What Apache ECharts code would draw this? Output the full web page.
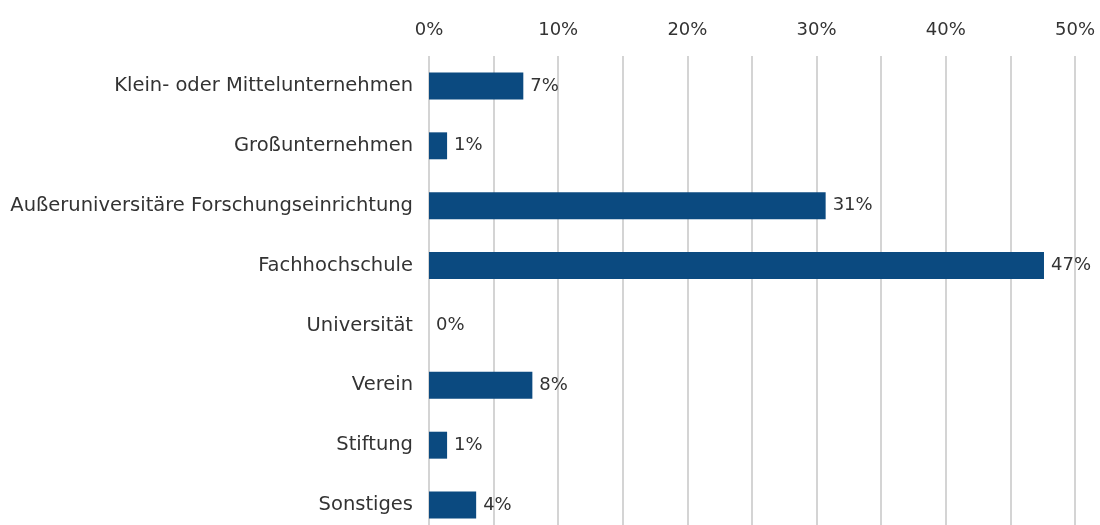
<!DOCTYPE html>
<html>
<head>
<meta charset="utf-8">
<script src="https://cdn.jsdelivr.net/npm/echarts@6/dist/echarts.min.js"></script>
<style>
  html, body { margin: 0; padding: 0; background: #fff; }
  #chart { width: 1100px; height: 525px; }
</style>
</head>
<body>
<div id="chart"></div>
<script>
// Kategorien von oben nach unten
const categories = [
  'Klein- oder Mittelunternehmen',
  'Großunternehmen',
  'Außeruniversitäre Forschungseinrichtung',
  'Fachhochschule',
  'Universität',
  'Verein',
  'Stiftung',
  'Sonstiges'
]
const shares = [7.3, 1.4, 30.7, 47.6, 0, 8.0, 1.4, 3.65]
// Beschriftungen wie im Original (gerundet)
const shareLabels = ['7%', '1%', '31%', '47%', '0%', '8%', '1%', '4%']
const tickValues = [0, 10, 20, 30, 40, 50]

const textColor = '#333333'
const fontFamily = '"DejaVu Sans", sans-serif'

const chart = echarts.init(document.getElementById('chart'))

const option = {
  animation: false,
  grid: {
    left: 429,
    right: 25,
    top: 56,
    height: 479,
    outerBoundsMode: 'none'
  },
  xAxis: {
    type: 'value',
    position: 'top',
    min: tickValues[0],
    max: tickValues[tickValues.length - 1],
    interval: 10,
    axisLine: { show: false },
    axisTick: { show: false },
    axisLabel: {
      color: textColor,
      fontSize: 18,
      fontFamily: fontFamily,
      margin: 17,
      formatter: v => v + '%'
    },
    splitLine: { show: true, lineStyle: { color: '#c6c6c6', width: 1.5 } },
    minorTick: { show: false, splitNumber: 2 },
    minorSplitLine: { show: true, lineStyle: { color: '#c6c6c6', width: 1.5 } }
  },
  yAxis: {
    type: 'category',
    inverse: true,
    data: categories,
    axisLine: { show: false },
    axisTick: { show: false },
    axisLabel: {
      color: textColor,
      fontSize: 19.5,
      fontFamily: fontFamily,
      margin: 16
    }
  },
  series: [
    {
      type: 'bar',
      data: shares,
      barCategoryGap: '55%',
      itemStyle: { color: '#0b4a80' },
      label: {
        show: true,
        position: 'right',
        distance: 7,
        color: textColor,
        fontSize: 18,
        fontFamily: fontFamily,
        formatter: p => shareLabels[p.dataIndex]
      }
    }
  ]
}

chart.setOption(option)
</script>
</body>
</html>
